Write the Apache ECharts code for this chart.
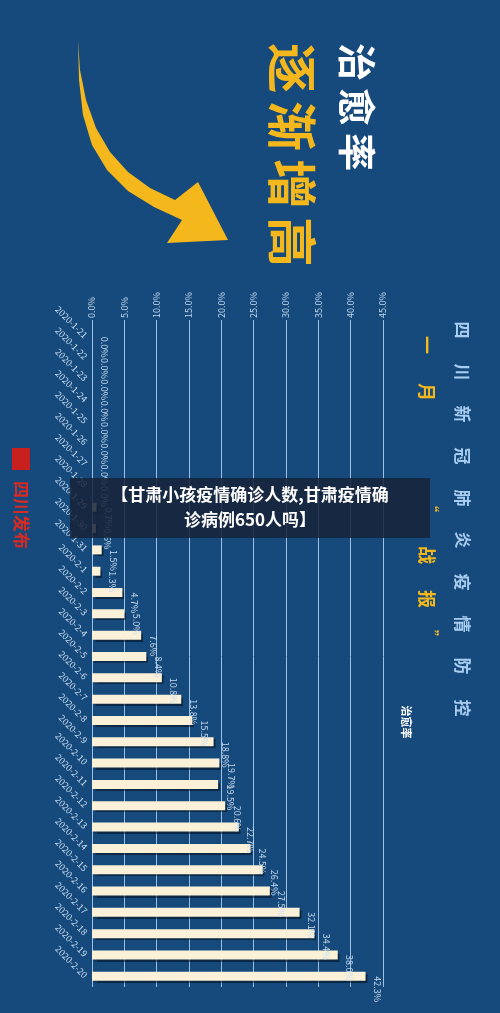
<!DOCTYPE html><html><head><meta charset="utf-8"><script src="https://cdn.jsdelivr.net/npm/echarts@6/dist/echarts.min.js"></script>
<style>html,body{margin:0;padding:0;background:#174a7c}#c{width:500px;height:1013px}</style></head><body><div id="c"></div>
<script>
const categories=['2020-1-21','2020-1-22','2020-1-23','2020-1-24','2020-1-25','2020-1-26','2020-1-27','2020-1-28','2020-1-29','2020-1-30','2020-1-31','2020-2-1','2020-2-2','2020-2-3','2020-2-4','2020-2-5','2020-2-6','2020-2-7','2020-2-8','2020-2-9','2020-2-10','2020-2-11','2020-2-12','2020-2-13','2020-2-14','2020-2-15','2020-2-16','2020-2-17','2020-2-18','2020-2-19','2020-2-20'];
const cureRate=[0,0,0,0,0,0,0,0,0.7,0.6,1.5,1.3,4.7,5.0,7.6,8.4,10.8,13.8,15.5,18.8,19.7,19.5,20.6,22.7,24.5,26.4,27.5,32.1,34.4,38.0,42.3];
const titleChars=['四','川','新','冠','肺','炎','疫','情','防','控'];
const chart=echarts.init(document.getElementById('c'));
const F='"Noto Sans CJK SC",sans-serif';
const g=[];
g.push({type:'polygon',shape:{points:[[78,40],[80,70],[86,100],[96,128],[110,152],[128,172],[150,188],[175,200],[198,182],[228,240],[167,243],[182,220],[154,207],[128,191],[107,170],[92,145],[83,115],[79,80]]},style:{fill:'#f5b81c'}});
function vtext(chars,x,y0,dy,size,color,weight){chars.forEach((c,i)=>g.push({type:'text',x:x,y:y0+i*dy,rotation:-Math.PI/2,style:{text:c,fill:color,font:(weight||'bold')+' '+size+'px '+F,align:'center',verticalAlign:'middle'}}));}
vtext(['治','愈','率'],357,62,45,38,'#ffffff');
vtext(['逐','渐','增','高'],292,68,58,50,'#f5b81c');
vtext(titleChars,462,330,42,17,'#a8cdf0');
vtext(['一','月'],427,345,47,18,'#f5b81c');
g.push({type:'text',x:432,y:505,rotation:-Math.PI/2,style:{text:'“',fill:'#f5b81c',font:'bold 14px '+F,align:'center',verticalAlign:'middle'}});
vtext(['战','报'],427,555,44,18,'#f5b81c');
g.push({type:'text',x:432,y:637,rotation:-Math.PI/2,style:{text:'”',fill:'#f5b81c',font:'bold 14px '+F,align:'center',verticalAlign:'middle'}});
g.push({type:'text',x:406,y:722,rotation:-Math.PI/2,style:{text:'治愈率',fill:'#ffffff',font:'bold 11px '+F,align:'center',verticalAlign:'middle'}});
g.push({type:'rect',shape:{x:12,y:448,width:18,height:22},style:{fill:'#c8201e'}});
g.push({type:'text',x:21,y:515,rotation:-Math.PI/2,style:{text:'四川发布',fill:'#d62a22',font:'bold 17px '+F,align:'center',verticalAlign:'middle'}});
g.push({type:'rect',shape:{x:70,y:478,width:360,height:60},style:{fill:'rgba(22,34,56,0.85)'},z:100});
g.push({type:'text',x:250,y:495,z:101,style:{text:'【甘肃小孩疫情确诊人数,甘肃疫情确',fill:'#fff',font:'bold 17px '+F,align:'center',verticalAlign:'middle'}});
g.push({type:'text',x:250,y:520,z:101,style:{text:'诊病例650人吗】',fill:'#fff',font:'bold 17px '+F,align:'center',verticalAlign:'middle'}});
chart.setOption({
 backgroundColor:'#174a7c',
 grid:{left:92,right:117,top:326,bottom:26},
 xAxis:{type:'value',position:'top',min:0,max:45,interval:5,
  axisLabel:{rotate:-90,color:'#c8dcf0',fontSize:9,fontFamily:F,formatter:v=>v.toFixed(1)+'%',margin:8},
  axisLine:{show:false},axisTick:{show:true,length:6,lineStyle:{color:'#9fc0e0'}},
  splitLine:{lineStyle:{color:'#9fc0e0',width:1}}},
 yAxis:{type:'category',inverse:true,data:categories,
  axisLabel:{rotate:-45,color:'#c8dcf0',fontSize:9,fontFamily:F,margin:6},
  axisLine:{show:false},axisTick:{show:false}},
 series:[{type:'bar',data:cureRate,barWidth:9,
  itemStyle:{color:'#fbf1d8',shadowColor:'rgba(0,0,0,0.45)',shadowOffsetX:2,shadowOffsetY:2,shadowBlur:1},
  label:{show:true,position:'right',distance:9,rotate:-90,align:'left',verticalAlign:'middle',color:'#c8dcf0',fontSize:9,fontFamily:F,offset:[0,-3],formatter:p=>p.value.toFixed(1)+'%'}}],
 graphic:g
});
</script></body></html>
